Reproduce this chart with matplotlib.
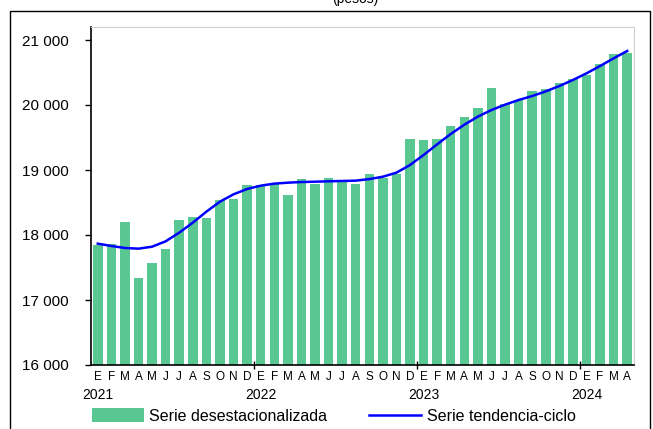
import matplotlib
matplotlib.use("Agg")
import matplotlib.pyplot as plt
import matplotlib.patches as mpatches
import matplotlib.transforms as mtransforms
import numpy as np

plt.rcParams['font.family'] = ['Liberation Sans', 'DejaVu Sans']

# meses ene-2021 .. abr-2024
months = ['E', 'F', 'M', 'A', 'M', 'J', 'J', 'A', 'S', 'O', 'N', 'D'] * 3 + ['E', 'F', 'M', 'A']
years = ['2021', '2022', '2023', '2024']

desest = [17841, 17867, 18200, 17333, 17569, 17779, 18231, 18277, 18262, 18538, 18559, 18764,
          18764, 18790, 18615, 18867, 18790, 18872, 18826, 18785, 18933, 18872, 18938, 19477,
          19462, 19477, 19682, 19821, 19949, 20262, 20021, 20072, 20210, 20246, 20333, 20395,
          20467, 20626, 20779, 20795]

tendencia = [17867, 17831, 17800, 17790, 17820, 17903, 18036, 18190, 18359, 18513, 18626, 18708,
             18759, 18790, 18805, 18815, 18820, 18826, 18831, 18836, 18860, 18897, 18959, 19077,
             19231, 19395, 19554, 19697, 19821, 19923, 20005, 20077, 20138, 20210, 20292, 20385,
             20487, 20600, 20718, 20831]

W, H = 653, 429
fig = plt.figure(figsize=(W / 100, H / 100), dpi=100)
ax = fig.add_axes([91 / W, 1 - 365 / H, (634 - 91) / W, (365 - 27) / H])

x = np.arange(len(desest))
b = ax.bar(x, desest, width=0.7, color='#58C792', zorder=2)
l, = ax.plot(x, tendencia, color='#0000FF', lw=1.8, zorder=3)

ax.set_xlim(-0.5, len(desest) - 0.5)
ax.set_ylim(16000, 21200)
yt = [16000, 17000, 18000, 19000, 20000, 21000]
ax.set_yticks(yt)
ax.set_yticklabels(['{:,}'.format(v).replace(',', ' ') for v in yt], fontsize=11)
ax.tick_params(axis='y', direction='out', length=4, width=1, pad=12)

# marcas de cambio de año
ax.set_xticks([11.5, 23.5, 35.5])
ax.set_xticklabels([])
ax.tick_params(axis='x', direction='inout', length=6, width=1)

trans = mtransforms.blended_transform_factory(ax.transData, ax.transAxes)
for i, m in enumerate(months):
    ax.text(i, -0.0355, m, transform=trans, ha='center', va='center', fontsize=8.5)
for k, yr in enumerate(years):
    ax.text(k * 12, -0.089, yr, transform=trans, ha='center', va='center', fontsize=10)

for s in ['left', 'bottom']:
    ax.spines[s].set_color('black')
    ax.spines[s].set_linewidth(1.2)
for s in ['top', 'right']:
    ax.spines[s].set_color('#D0D0D0')

fig.legend([b, l], ['Serie desestacionalizada', 'Serie tendencia-ciclo'],
           loc='center', bbox_to_anchor=(0.511, 1 - 416 / H), ncol=2, frameon=False,
           fontsize=11.5, handlelength=3.25, handleheight=0.9, handletextpad=0.35, columnspacing=2.6)

fig.text(0.544, 1 - 3 / H, '(pesos)', ha='center', va='baseline', fontsize=10)

border = mpatches.Rectangle((10 / W, -0.05), 640 / W, 1 - 11 / H + 0.05,
                            transform=fig.transFigure, fill=False, ec='black', lw=1)
fig.patches.append(border)

fig.savefig('out.png', dpi=100)
